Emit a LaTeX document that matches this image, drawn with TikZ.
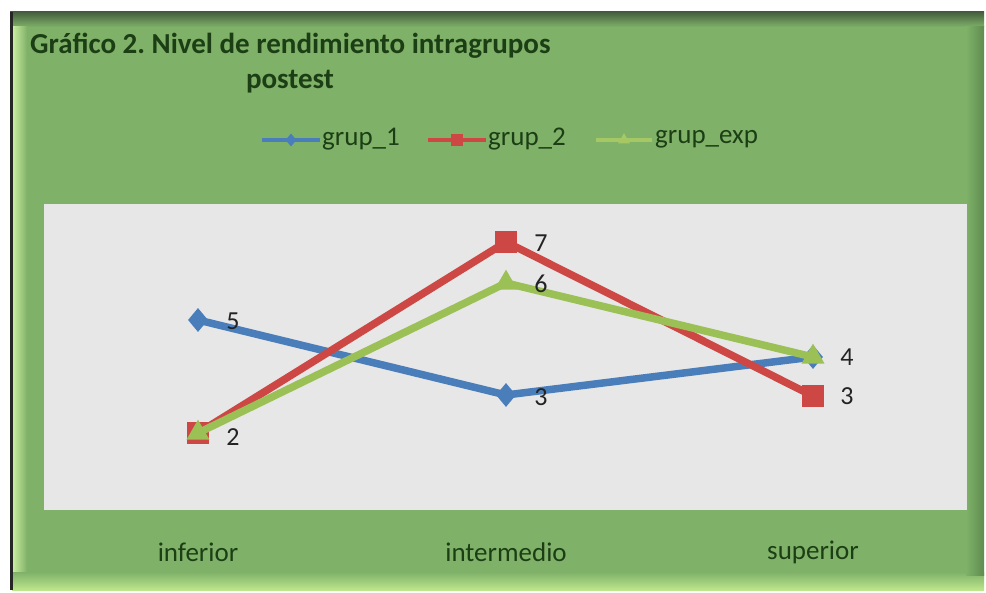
\documentclass[tikz,border=0pt]{standalone}
\usepackage{fontspec}
\setmainfont{Carlito}
\usetikzlibrary{shapes.geometric}
\frenchspacing
\definecolor{bggreen}{RGB}{127,177,105}
\definecolor{topdark}{RGB}{70,95,62}
\definecolor{leftlight}{RGB}{205,240,160}
\definecolor{bottomlight}{RGB}{190,230,140}
\definecolor{rightdark}{RGB}{95,140,80}
\definecolor{plotgrey}{RGB}{231,231,231}
\definecolor{txtgreen}{RGB}{28,62,20}
\definecolor{sblue}{RGB}{74,126,187}
\definecolor{sred}{RGB}{205,72,68}
\definecolor{sgreen}{RGB}{155,192,85}
\definecolor{lgreen}{RGB}{165,200,100}
\definecolor{lbltxt}{RGB}{35,35,35}
\tikzset{
  serie/.style={line width=7.5pt, line join=miter},
  dmark/.style={diamond, fill=sblue, inner sep=0pt, minimum width=20pt, minimum height=24pt},
  smark/.style={rectangle, fill=sred, inner sep=0pt, minimum size=22pt},
  tmark/.style={isosceles triangle, isosceles triangle apex angle=60, shape border rotate=90, fill=sgreen, inner sep=0pt, minimum height=20pt, minimum width=22pt},
  dlabel/.style={font=\fontsize{26}{30}\selectfont, text=lbltxt, inner sep=0pt},
  catlabel/.style={font=\fontsize{27}{30}\selectfont, text=txtgreen, inner sep=0pt},
  legtext/.style={font=\fontsize{27}{30}\selectfont, text=txtgreen, inner sep=0pt, anchor=west},
  titletext/.style={font=\bfseries\fontsize{29}{32}\selectfont, text=txtgreen, inner sep=0pt}
}
\begin{document}
\begin{tikzpicture}[x=1pt,y=-1pt]
\useasboundingbox (0,0) rectangle (986,593);
\fill[white] (0,0) rectangle (986,593);
% frame
\fill[bggreen] (10,12) rectangle (984,590);
\shade[top color=topdark, bottom color=bggreen] (10,12) rectangle (984,27);
\shade[left color=leftlight, right color=bggreen] (12,27) rectangle (27,575);
\shade[top color=bggreen, bottom color=bottomlight] (12,572) rectangle (984,590);
\shade[left color=bggreen, right color=rightdark] (966,27) rectangle (984,575);
\fill[black!85] (10,12) rectangle (12.5,590);
% title
\node[titletext, anchor=west] (title1) at (30,46) {Gráfico 2. Nivel de rendimiento intragrupos};
\node[titletext] (title2) at (290,82) {postest};
% legend
\coordinate (lb1) at (262,140); \coordinate (lb2) at (320,140);
\draw[sblue, line width=4pt] (lb1) -- (lb2);
\node[dmark, minimum width=11pt, minimum height=13pt] (lbm) at (291,140) {};
\node[legtext] (lbt) at (322,139) {grup\_1};
\coordinate (lr1) at (428,140); \coordinate (lr2) at (486,140);
\draw[sred, line width=4pt] (lr1) -- (lr2);
\node[smark, minimum size=12pt] (lrm) at (457,140) {};
\node[legtext] (lrt) at (488,139) {grup\_2};
\coordinate (lg1) at (596,140); \coordinate (lg2) at (652,140);
\draw[lgreen, line width=4pt] (lg1) -- (lg2);
\node[tmark, fill=lgreen, minimum height=10pt, minimum width=12pt] (lgm) at (624,140) {};
\node[legtext] (lgt) at (655,139) {grup\_exp};
% plot area
\fill[plotgrey] (44,204) rectangle (967,510);
% data points
\coordinate (b1) at (198,320); \coordinate (b2) at (506,395); \coordinate (b3) at (813,357);
\coordinate (r1) at (198,433); \coordinate (r2) at (506,242); \coordinate (r3) at (813,396);
\coordinate (g1) at (198,433); \coordinate (g2) at (506,283); \coordinate (g3) at (813,357);
% blue series
\draw[serie, sblue] (b1) -- (b2) -- (b3);
\node[dmark] (bm1) at (b1) {};
\node[dmark] (bm2) at (b2) {};
\node[dmark] (bm3) at (b3) {};
% red series
\draw[serie, sred] (r1) -- (r2) -- (r3);
\node[smark] (rm1) at (r1) {};
\node[smark] (rm2) at (r2) {};
\node[smark] (rm3) at (r3) {};
% green series
\draw[serie, sgreen] (g1) -- (g2) -- (g3);
\node[tmark] (gm1) at (g1) {};
\node[tmark] (gm2) at (g2) {};
\node[tmark] (gm3) at (g3) {};
% data labels
\node[dlabel] (lb5) at (233,321) {5};
\node[dlabel] (lb3) at (541,397) {3};
\node[dlabel] (lr2l) at (233,437) {2};
\node[dlabel] (lr7) at (541,243) {7};
\node[dlabel] (lg6) at (541,284) {6};
\node[dlabel] (lg4) at (847,357) {4};
\node[dlabel] (lr3) at (847,396) {3};
% categories
\node[catlabel] (c1) at (198,552) {inferior};
\node[catlabel] (c2) at (506,552) {intermedio};
\node[catlabel] (c3) at (813,552) {superior};
\end{tikzpicture}
\end{document}
